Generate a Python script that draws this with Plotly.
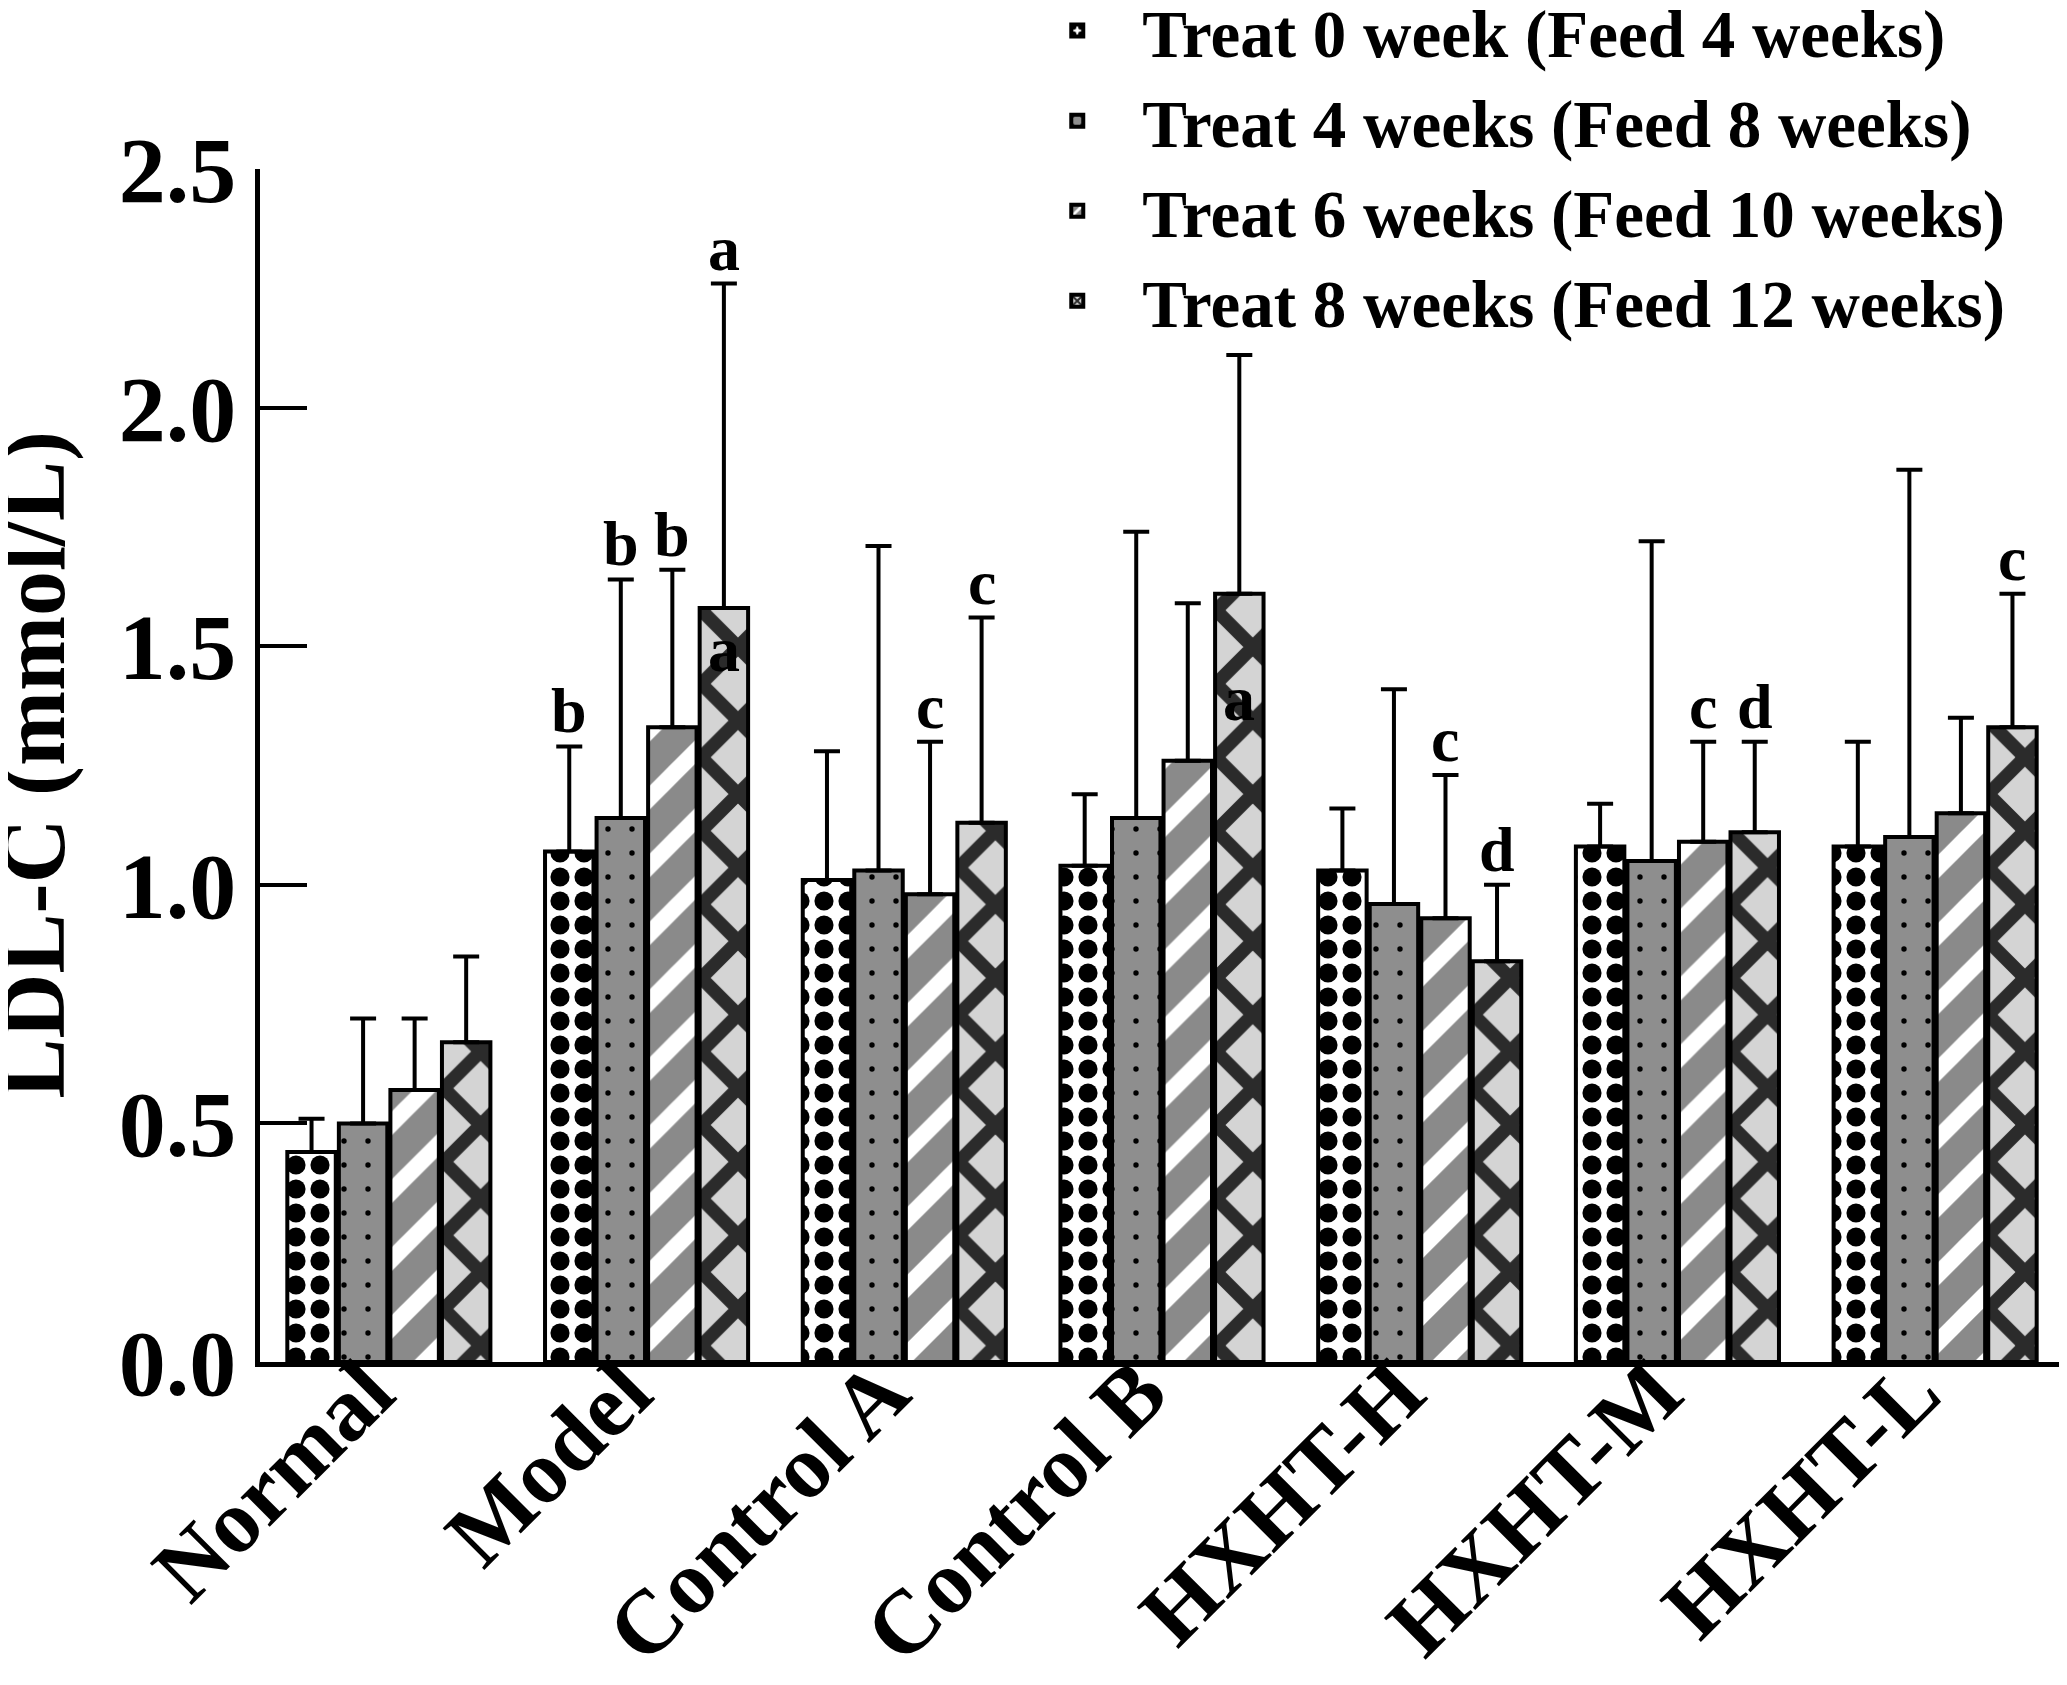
import plotly.graph_objects as go

categories = ["Normal", "Model", "Control A", "Control B", "HXHT-H", "HXHT-M", "HXHT-L"]
series_names = [
    "Treat 0 week (Feed 4 weeks)",
    "Treat 4 weeks (Feed 8 weeks)",
    "Treat 6 weeks (Feed 10 weeks)",
    "Treat 8 weeks (Feed 12 weeks)",
]
mean_t0 = [0.44, 1.07, 1.01, 1.04, 1.03, 1.08, 1.08]
mean_t4 = [0.50, 1.14, 1.03, 1.14, 0.96, 1.05, 1.10]
mean_t6 = [0.57, 1.33, 0.98, 1.26, 0.93, 1.09, 1.15]
mean_t8 = [0.67, 1.58, 1.13, 1.61, 0.84, 1.11, 1.33]
sd_t0 = [0.07, 0.22, 0.27, 0.15, 0.13, 0.09, 0.22]
sd_t4 = [0.22, 0.50, 0.68, 0.60, 0.45, 0.67, 0.77]
sd_t6 = [0.15, 0.33, 0.32, 0.33, 0.30, 0.21, 0.20]
sd_t8 = [0.18, 0.68, 0.43, 0.50, 0.16, 0.19, 0.28]
y_ticks = [0.0, 0.5, 1.0, 1.5, 2.0, 2.5]
y_title = "LDL-C (mmol/L)"

# significance letters: (category index, series index, letter)
letters_above = [(1, 0, "b"), (1, 1, "b"), (1, 2, "b"), (1, 3, "a"),
                 (2, 2, "c"), (2, 3, "c"),
                 (4, 2, "c"), (4, 3, "d"),
                 (5, 2, "c"), (5, 3, "d"),
                 (6, 3, "c")]
letters_inside = [(1, 3, "a"), (3, 3, "a")]

means = [mean_t0, mean_t4, mean_t6, mean_t8]
sds = [sd_t0, sd_t4, sd_t6, sd_t8]

FONT = "Liberation Serif, Times New Roman, serif"
styles = [
    dict(color="white", pattern=dict(shape=".", fgcolor="black", bgcolor="white",
                                     size=24, solidity=0.5, fillmode="replace", fgopacity=1)),
    dict(color="#8e8e8e", pattern=dict(shape=".", fgcolor="black", bgcolor="#8e8e8e",
                                       size=24, solidity=0.04, fillmode="replace", fgopacity=1)),
    dict(color="#8a8a8a", pattern=dict(shape="/", fgcolor="white", bgcolor="#8a8a8a",
                                       size=48, solidity=0.35, fillmode="replace", fgopacity=1)),
    dict(color="#d4d4d4", pattern=dict(shape="x", fgcolor="#2b2b2b", bgcolor="#d4d4d4",
                                       size=52, solidity=0.45, fillmode="replace", fgopacity=1)),
]

bargap = 0.2
bargroupgap = 0.06

fig = go.Figure()
for k in range(4):
    fig.add_trace(go.Bar(
        x=categories, y=means[k], name=series_names[k],
        marker=dict(color=styles[k]["color"], pattern=styles[k]["pattern"],
                    line=dict(color="black", width=4)),
        error_y=dict(type="data", symmetric=False, array=sds[k],
                     arrayminus=[0] * len(categories),
                     color="black", thickness=4, width=13),
    ))

slot = (1 - bargap) / 4
annotations = []
for ci, si, txt in letters_above:
    annotations.append(dict(
        x=ci + (si - 1.5) * slot, y=means[si][ci] + sds[si][ci],
        xref="x", yref="y", text=txt, showarrow=False,
        yanchor="bottom", yshift=-2,
        font=dict(family=FONT, size=64, color="black", weight="bold"),
    ))
for ci, si, txt in letters_inside:
    annotations.append(dict(
        x=ci + (si - 1.5) * slot, y=means[si][ci],
        xref="x", yref="y", text=txt, showarrow=False,
        yanchor="top", yshift=-4 if ci == 1 else -67,
        font=dict(family=FONT, size=64, color="black", weight="bold"),
    ))
# y-axis title
annotations.append(dict(
    x=0, y=0.5, xref="paper", yref="paper", text=y_title, showarrow=False,
    textangle=-90, xanchor="center", yanchor="middle", xshift=-227,
    font=dict(family=FONT, size=90, color="black", weight="bold"),
))

fig.update_layout(
    width=2067, height=1685,
    barmode="group", bargap=bargap, bargroupgap=bargroupgap,
    paper_bgcolor="white", plot_bgcolor="white",
    margin=dict(l=252, r=11, t=161, b=331, autoexpand=False),
    font=dict(family=FONT, color="black", weight="bold"),
    showlegend=True,
    legend=dict(x=0.417, y=1.158, xanchor="left", yanchor="top",
                font=dict(family=FONT, size=67, color="black", weight="bold"),
                itemwidth=120, tracegroupgap=0, bgcolor="rgba(0,0,0,0)"),
    annotations=annotations,
)
fig.update_xaxes(
    type="category", range=[-0.5, 6.5],
    showline=True, linecolor="black", linewidth=5,
    ticks="", showgrid=False, zeroline=False,
    tickangle=-45, automargin=False,
    ticklabelstandoff=-64, ticklabelshift=-22,
    tickfont=dict(family=FONT, size=90, color="black", weight="bold"),
)
fig.update_yaxes(
    range=[0, 2.5], tickvals=y_ticks, tickformat=".1f",
    showline=True, linecolor="black", linewidth=5,
    ticks="inside", ticklen=47, tickwidth=4, tickcolor="black",
    showgrid=False, zeroline=False, automargin=False,
    tickfont=dict(family=FONT, size=94, color="black", weight="bold"),
)

fig.write_html("out.html")
